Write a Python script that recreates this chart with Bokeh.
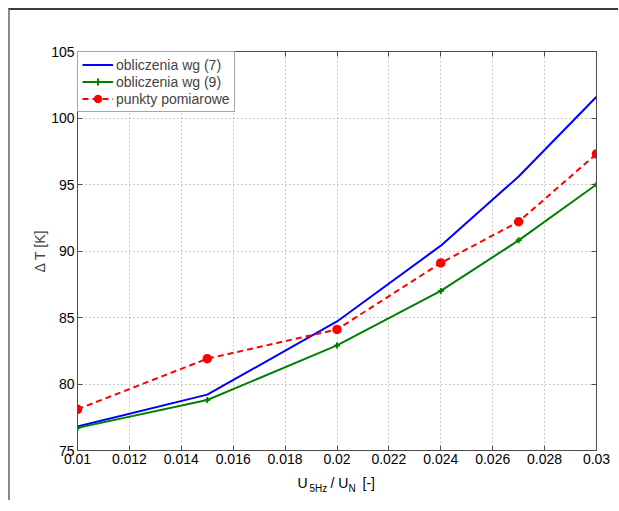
from bokeh.plotting import figure
from bokeh.layouts import column
from bokeh.models import (LinearAxis, FixedTicker, CustomJSTickFormatter, Legend,
                          LegendItem, Range1d)
from bokeh.core.properties import value
from bokeh.embed import file_html
from bokeh.resources import INLINE

# ---- data ----
x_vals = [0.01, 0.015, 0.02, 0.024, 0.027, 0.03]
calc7 = [76.8, 79.2, 84.7, 90.4, 95.6, 101.6]
calc9 = [76.7, 78.8, 82.9, 87.0, 90.8, 95.0]
measured = [78.1, 81.9, 84.1, 89.1, 92.2, 97.3]

x_ticks = [0.01, 0.012, 0.014, 0.016, 0.018, 0.02, 0.022, 0.024, 0.026, 0.028, 0.03]
y_ticks = [75, 80, 85, 90, 95, 100, 105]

label7 = "obliczenia wg (7)"
label9 = "obliczenia wg (9)"
label_meas = "punkty pomiarowe"
y_title = "Δ T [K]"
x_title_main = ["U", "/ U", "[-]"]
x_title_sub = ["5Hz", "N"]

FONT = "Liberation Sans"
AX = "#4d4d4d"
W = 608
FRAME_W = 519  # plot frame width in px (title strip is aligned to it)

p = figure(width=W, height=462, output_backend="svg", toolbar_location=None,
           x_range=Range1d(0.01, 0.03), y_range=Range1d(75, 105),
           min_border_left=67, min_border_top=41, min_border_right=22,
           min_border_bottom=22)
p.background_fill_color = "white"
p.border_fill_color = "white"
p.outline_line_color = AX
p.outline_line_width = 1

fmt = CustomJSTickFormatter(code="""
var s = tick.toFixed(3);
s = s.replace(/0+$/, '');
if (s.endsWith('.')) s = s.slice(0, -1);
return s;
""")

p.xaxis.ticker = FixedTicker(ticks=x_ticks)
p.xaxis.formatter = fmt
p.yaxis.ticker = FixedTicker(ticks=y_ticks)

for ax in [p.xaxis[0], p.yaxis[0]]:
    ax.major_tick_in = 5
    ax.major_tick_out = 0
    ax.minor_tick_line_color = None
    ax.axis_line_color = AX
    ax.major_tick_line_color = AX
    ax.major_label_text_font = FONT
    ax.major_label_text_font_size = "14px"
    ax.major_label_text_color = "black"
    ax.major_label_standoff = 3

p.yaxis.axis_label = y_title
p.yaxis.axis_label_text_font = FONT
p.yaxis.axis_label_text_font_size = "14px"
p.yaxis.axis_label_text_font_style = "normal"
p.yaxis.axis_label_standoff = 0

# mirror axes (top, right) with inward ticks and no labels drawn
top = LinearAxis(ticker=FixedTicker(ticks=x_ticks), major_tick_in=5, major_tick_out=0,
                 minor_tick_line_color=None, axis_line_color=AX, major_tick_line_color=AX,
                 major_label_text_color=None, major_label_text_font_size="1px",
                 major_label_standoff=0)
right = LinearAxis(ticker=FixedTicker(ticks=y_ticks), major_tick_in=5, major_tick_out=0,
                   minor_tick_line_color=None, axis_line_color=AX, major_tick_line_color=AX,
                   major_label_text_color=None, major_label_text_font_size="1px",
                   major_label_standoff=0)
p.add_layout(top, "above")
p.add_layout(right, "right")

p.xgrid.ticker = FixedTicker(ticks=x_ticks)
p.ygrid.ticker = FixedTicker(ticks=y_ticks)
for g in [p.xgrid[0], p.ygrid[0]]:
    g.grid_line_color = "#999999"
    g.grid_line_dash = "1 3"
    g.grid_line_width = 1

# ---- series ----
r7 = p.line(x_vals, calc7, line_color="#0000ff", line_width=2)
r9 = p.line(x_vals, calc9, line_color="#008000", line_width=2)
r9m = p.scatter(x_vals, calc9, marker="cross", size=6, line_color="#008000", line_width=2)
rm = p.line(x_vals, measured, line_color="#ff0000", line_width=2, line_dash="6 4")
rmm = p.scatter(x_vals, measured, marker="circle", size=8, line_color="#ff0000",
                fill_color="#ff0000", line_width=1.5)

legend = Legend(items=[
    LegendItem(label=label7, renderers=[r7]),
    LegendItem(label=label9, renderers=[r9, r9m]),
    LegendItem(label=label_meas, renderers=[rm, rmm]),
], location="top_left")
legend.margin = 0
legend.padding = 4
legend.spacing = 0
legend.glyph_width = 31
legend.glyph_height = 17
legend.label_height = 17
legend.label_standoff = 3
legend.label_text_font = FONT
legend.label_text_font_size = "14px"
legend.border_line_color = AX
legend.border_line_width = 1
legend.background_fill_alpha = 1
p.add_layout(legend)

# ---- x axis title strip (with subscripts); its frame aligns with the plot frame ----
QH = 28
q = figure(width=W, height=QH, output_backend="svg", toolbar_location=None,
           x_range=Range1d(0, FRAME_W), y_range=Range1d(QH, 0),
           x_axis_location=None, y_axis_location=None, min_border=0)
q.outline_line_color = None
q.grid.visible = False
q.background_fill_color = "white"
q.border_fill_color = "white"
q.text(x=[220, 253, 285], y=[10.5, 10.5, 10.5], text=x_title_main,
       text_font=value(FONT), text_font_size="14px", text_align="left",
       text_baseline="alphabetic", text_color="black")
q.text(x=[232, 271], y=[15.5, 15.5], text=x_title_sub,
       text_font=value(FONT), text_font_size="10px", text_align="left",
       text_baseline="alphabetic", text_color="black")

layout = column(p, q, spacing=0)
layout.styles = {"margin-left": "8px", "margin-top": "8px",
                 "border-top": "2px solid #3a3a3a", "border-left": "2px solid #8a8a8a"}

open("out.html", "w").write(file_html(layout, INLINE))
